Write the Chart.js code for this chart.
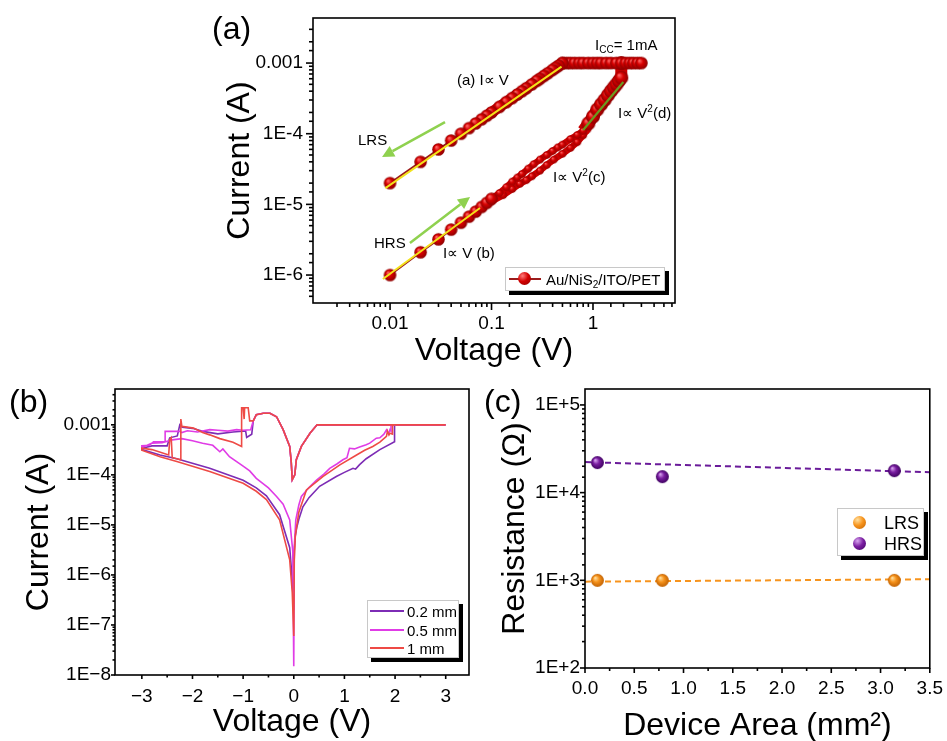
<!DOCTYPE html>
<html><head><meta charset="utf-8">
<script src="https://cdn.jsdelivr.net/npm/chart.js@4.4.1/dist/chart.umd.min.js"></script>
<style>
body{margin:0;background:#fff;}
#root{position:relative;width:947px;height:741px;overflow:hidden;font-family:'Liberation Sans',Arial,sans-serif;color:#000;background:#fff;}
canvas{position:absolute;}
.t{position:absolute;white-space:nowrap;line-height:1;font-size:15px;}
.t sub{font-size:10px;vertical-align:-3px;line-height:0;}
.t sup{font-size:10px;vertical-align:6px;line-height:0;}
.pl{position:absolute;white-space:nowrap;line-height:1;font-size:32px;}
.leg{position:absolute;background:#fff;border:1px solid #c8c8c8;box-shadow:4px 4px 0 0 #000;}
.leg .ln{position:absolute;height:2px;}
.leg .sp{position:absolute;border-radius:50%;}
.leg .lt{position:absolute;white-space:nowrap;line-height:1;}
.leg sub{font-size:10px;vertical-align:-3px;line-height:0;}
</style></head>
<body><div id="root">
<canvas id="cA" width="520" height="370" style="left:180px;top:0;width:520px;height:370px"></canvas>
<canvas id="cB" width="480" height="371" style="left:0;top:370px;width:480px;height:371px"></canvas>
<canvas id="cC" width="467" height="375" style="left:480px;top:370px;width:467px;height:375px"></canvas>

<div class="pl" style="left:212px;top:12px">(a)</div>
<div class="pl" style="left:9px;top:385px">(b)</div>
<div class="pl" style="left:484px;top:385px">(c)</div>

<div class="t" style="left:595px;top:37px">I<sub>CC</sub>= 1mA</div>
<div class="t" style="left:457px;top:72px">(a) I∝ V</div>
<div class="t" style="left:618px;top:105px">I∝ V<sup>2</sup>(d)</div>
<div class="t" style="left:358px;top:132px">LRS</div>
<div class="t" style="left:553px;top:169px">I∝ V<sup>2</sup>(c)</div>
<div class="t" style="left:374px;top:235px">HRS</div>
<div class="t" style="left:443px;top:245px">I∝ V (b)</div>

<div class="leg" style="left:505px;top:267px;width:158px;height:22px">
  <div class="ln" style="left:3px;top:10px;width:32px;background:#9B1B1B"></div>
  <div class="sp" style="left:12px;top:4px;width:13px;height:13px;background:radial-gradient(circle at 35% 30%,#ff7a7a,#d40000 45%,#8c0000)"></div>
  <div class="lt" style="left:40px;top:4px;font-size:15px">Au/NiS<sub>2</sub>/ITO/PET</div>
</div>

<div class="leg" style="left:367px;top:600px;width:90px;height:56px">
  <div class="ln" style="left:2px;top:9px;width:34px;background:#7D2CB5"></div>
  <div class="lt" style="left:39px;top:3px;font-size:15px">0.2 mm</div>
  <div class="ln" style="left:2px;top:28px;width:34px;background:#E03CE6"></div>
  <div class="lt" style="left:39px;top:22px;font-size:15px">0.5 mm</div>
  <div class="ln" style="left:2px;top:46px;width:34px;background:#EE4A45"></div>
  <div class="lt" style="left:39px;top:40px;font-size:15px">1 mm</div>
</div>

<div class="leg" style="left:837px;top:508px;width:85px;height:46px">
  <div class="sp" style="left:15px;top:7px;width:13px;height:13px;background:radial-gradient(circle at 35% 30%,#FFE0A0,#F7941D 45%,#C06000)"></div>
  <div class="lt" style="left:46px;top:5px;font-size:18px">LRS</div>
  <div class="sp" style="left:15px;top:28px;width:13px;height:13px;background:radial-gradient(circle at 35% 30%,#D9A6F0,#7B1FA2 45%,#3E0060)"></div>
  <div class="lt" style="left:46px;top:26px;font-size:18px">HRS</div>
</div>
</div>

<script>
// ================= DATA =================
// ---- Panel (a): Au/NiS2/ITO/PET log-log I-V ----
const aHrsV = [0.01,0.02,0.03,0.04,0.05,0.06,0.07,0.08,0.09,0.1,0.12,0.14,0.16,0.18,0.2,0.23,0.26,0.3,0.35,0.4,0.45,0.5,0.6,0.7,0.8,0.9,1.0,1.1,1.2,1.3,1.4,1.5,1.6,1.7,1.8,1.9,1.9];
const aHrsI = [1e-6,2.1e-6,3.2e-6,4.4e-6,5.5e-6,6.7e-6,7.9e-6,9.2e-6,1.05e-5,1.2e-5,1.45e-5,1.75e-5,2.1e-5,2.4e-5,2.7e-5,3.2e-5,3.7e-5,4.3e-5,5.0e-5,5.7e-5,6.4e-5,7.0e-5,8.4e-5,9.6e-5,1.1e-4,1.4e-4,1.75e-4,2.2e-4,2.6e-4,3.0e-4,3.5e-4,4.0e-4,4.5e-4,5.0e-4,5.6e-4,6.2e-4,1e-3];
const aHrs2V = [0.1,0.13,0.16,0.19,0.22,0.25,0.3,0.35,0.41,0.5,0.6,0.7,0.8,0.88];
const aHrs2I = [1.1e-5,1.35e-5,1.65e-5,1.95e-5,2.2e-5,2.5e-5,3.0e-5,3.6e-5,4.3e-5,5.2e-5,6.3e-5,7.6e-5,9.5e-5,1.15e-4];
const aCompV = [0.5,0.55,0.6,0.66,0.73,0.8,0.9,1.0,1.1,1.2,1.35,1.5,1.7,1.9,2.1,2.3,2.5,2.75,3.0];
const aCompI = [1e-3,1e-3,1e-3,1e-3,1e-3,1e-3,1e-3,1e-3,1e-3,1e-3,1e-3,1e-3,1e-3,1e-3,1e-3,1e-3,1e-3,1e-3,1e-3];
const aLrsV = [0.5,0.46,0.43,0.4,0.36,0.33,0.3,0.28,0.25,0.22,0.2,0.18,0.16,0.14,0.12,0.1,0.09,0.08,0.07,0.06,0.05,0.04,0.03,0.02,0.01];
const aLrsI = [1e-3,9.2e-4,8.6e-4,8e-4,7.2e-4,6.6e-4,6e-4,5.6e-4,5e-4,4.4e-4,4e-4,3.6e-4,3.2e-4,2.8e-4,2.4e-4,2e-4,1.8e-4,1.6e-4,1.4e-4,1.2e-4,1e-4,8e-5,6e-5,4e-5,2e-5];
// fitted slopes
const fitLrsV = [0.009,0.49], fitLrsI = [1.7e-5,8.9e-4];
const fitHrsV = [0.0085,0.077], fitHrsI = [8.8e-7,8.9e-6];
const fitDV = [0.8,1.99], fitDI = [1.13e-4,5.4e-4];
// annotation arrows (from -> to, in data units)
const arrowsA = [
  {from:[0.0348,1.46e-4], to:[0.00834,4.68e-5]},
  {from:[0.0157,2.84e-6], to:[0.0614,1.27e-5]}
];

// ---- Panel (b): linear V, log I for three device sizes ----
const bLrsBackV = [3.0,0.46,0.32,0.15,0.05,0.02];
const bLrsBackI = [1e-3,1e-3,6.8e-4,3.7e-4,2e-4,1e-4];
const bHumpV = [-0.03,-0.05,-0.08,-0.21,-0.34,-0.47,-0.6,-0.74,-0.8];
const bHumpI = [8e-5,1.8e-4,3.7e-4,8e-4,1.45e-3,1.7e-3,1.7e-3,1.6e-3,1.2e-3];
// 0.2 mm
const b02FwdV = [0,0.01,0.03,0.06,0.1,0.18,0.3,0.51,0.84,1.0,1.17,1.22,1.3,1.43,1.7,1.99,1.99];
const b02FwdI = [2e-7,3e-6,6e-6,9e-6,1.3e-5,2.3e-5,3.5e-5,5.9e-5,9.3e-5,1.12e-4,1.35e-4,1.3e-4,1.6e-4,2.1e-4,3.2e-4,4.6e-4,1e-3];
const b02ResetV = [-0.83,-0.93,-0.95,-1.2,-1.5,-1.8,-2.0,-2.2,-2.25,-2.3,-2.45,-2.5,-2.8,-3.0];
const b02ResetI = [6.5e-4,5.6e-4,7.5e-4,7.2e-4,6.6e-4,7.4e-4,8.5e-4,9e-4,1.0e-3,6e-4,5.5e-4,3.8e-4,3.8e-4,3.4e-4];
const b02RetV = [-3.0,-2.64,-2.31,-1.66,-1.0,-0.74,-0.54,-0.28,-0.08,-0.03,0];
const b02RetI = [3.2e-4,2.5e-4,2.1e-4,1.35e-4,7.8e-5,5.5e-5,3.8e-5,1.6e-5,3.5e-6,8e-7,2e-7];
// 0.5 mm
const b05FwdV = [0,0.01,0.04,0.1,0.15,0.3,0.45,0.6,0.71,0.85,0.97,1.05,1.1,1.2,1.3,1.43,1.5,1.63,1.7,1.78,1.83,1.87,1.9,1.92,1.92];
const b05FwdI = [1.5e-8,3.7e-6,1.26e-5,2.5e-5,3.7e-5,5.6e-5,7.9e-5,1.05e-4,1.35e-4,1.65e-4,2.0e-4,2.2e-4,3.4e-4,3.3e-4,3.6e-4,4.0e-4,4.3e-4,5.4e-4,5.5e-4,6.5e-4,7.9e-4,6.6e-4,8e-4,7.5e-4,1e-3];
const b05ResetV = [-0.85,-1.0,-1.13,-1.3,-1.5,-1.66,-1.9,-2.1,-2.21,-2.25,-2.54,-2.54,-2.77,-2.85,-3.0];
const b05ResetI = [8e-4,7.8e-4,8e-4,7.5e-4,7.8e-4,8e-4,7.2e-4,7.6e-4,7e-4,7.4e-4,7.4e-4,4.6e-4,4.6e-4,3.9e-4,3.8e-4];
const b05RetV = [-3.0,-2.8,-2.6,-2.4,-2.21,-2.0,-1.8,-1.6,-1.46,-1.4,-1.27,-1.0,-0.87,-0.74,-0.5,-0.34,-0.21,-0.08,-0.02,0];
const b05RetI = [3.5e-4,4.3e-4,4.4e-4,5.0e-4,5.3e-4,4.8e-4,4.3e-4,3.9e-4,2.9e-4,3.3e-4,2.3e-4,1.5e-4,1.2e-4,8.5e-5,5.5e-5,3.7e-5,2.6e-5,1.26e-5,3e-6,1.5e-8];
// 1 mm
const b1FwdV = [0,0.01,0.03,0.1,0.25,0.58,0.91,1.24,1.4,1.56,1.7,1.83,1.85,1.88,1.9,1.95,1.95];
const b1FwdI = [6e-8,2e-6,6e-6,1.8e-5,5e-5,9.3e-5,1.58e-4,2.5e-4,3.1e-4,3.7e-4,4.5e-4,5.9e-4,7.5e-4,6.3e-4,6.8e-4,6.5e-4,1e-3];
const b1ResetV = [-0.87,-0.9,-0.97,-0.98,-1.0,-1.03,-1.03,-1.2,-1.46,-1.66,-1.8,-1.98,-2.21,-2.23,-2.23,-2.4,-2.42,-2.45,-2.47,-2.8,-3.0];
const b1ResetI = [1.2e-3,2.2e-3,2.2e-3,1.3e-3,2.2e-3,2.2e-3,3.7e-4,4.5e-4,5.3e-4,6.3e-4,7e-4,8.6e-4,9.3e-4,1.3e-3,2.0e-4,2.2e-4,5.5e-4,5.0e-4,2.5e-4,3.2e-4,3.4e-4];
const b1RetV = [-3.0,-2.64,-2.31,-1.66,-1.0,-0.74,-0.54,-0.28,-0.08,-0.03,0];
const b1RetI = [3.1e-4,2.3e-4,1.85e-4,1.17e-4,6.8e-5,4.7e-5,3.2e-5,1.26e-5,2e-6,4.4e-7,6e-8];
const bLabels = ['0.2 mm','0.5 mm','1 mm'];

// ---- Panel (c): resistance vs device area ----
const cArea = [0.126,0.785,3.14];
const cLRS = [1000,1000,1000];
const cHRS = [22000,15200,17800];
const cFitX = [0,3.5];
const cFitLRS = [966,1028];
const cFitHRS = [22300,17100];
const cLabels = ['LRS','HRS'];

// ================= HELPERS =================
const FONT = "'Liberation Sans', Arial, sans-serif";
Chart.defaults.font.family = FONT;
Chart.defaults.color = '#000';

function pts(vs, is){ return vs.map((v,k)=>({x:v, y:is[k]})); }

function sphere(r, hi, mid, edge){
  const s = Math.ceil(2*r)+2, c = document.createElement('canvas');
  c.width = c.height = s;
  const g = c.getContext('2d'), m = s/2;
  const gr = g.createRadialGradient(m - r*0.35, m - r*0.4, r*0.05, m, m, r);
  gr.addColorStop(0, hi); gr.addColorStop(0.45, mid); gr.addColorStop(1, edge);
  g.fillStyle = gr; g.beginPath(); g.arc(m, m, r, 0, 2*Math.PI); g.fill();
  return c;
}
const redL = sphere(7, '#ff6a6a', '#d80000', '#8c0000');
const redM = sphere(6.3, '#ff6a6a', '#d80000', '#8c0000');
const redS = sphere(3.8, '#ff6a6a', '#d40000', '#9a0000');
const orgS = sphere(6.5, '#FFE0A0', '#F7941D', '#C06000');
const purS = sphere(6.5, '#D9A6F0', '#7B1FA2', '#3E0060');

const frameTicks = {
  id:'frameTicks',
  afterDraw(chart, args, opts){
    const {ctx, chartArea:a} = chart;
    ctx.save();
    ctx.strokeStyle = '#000';
    ctx.lineWidth = opts.lw || 1.5;
    ['x','y'].forEach(id=>{
      const s = chart.scales[id];
      s.ticks.forEach(t=>{
        const p = s.getPixelForValue(t.value);
        const major = t.label !== '' && t.label != null;
        const len = major ? opts.major : opts.minor;
        if (id === 'x'){
          if (!major && (p < a.left+3 || p > a.right-3)) return;
          ctx.beginPath(); ctx.moveTo(p, a.bottom); ctx.lineTo(p, a.bottom+len); ctx.stroke();
        } else {
          if (!major && (p < a.top+3 || p > a.bottom-3)) return;
          ctx.beginPath(); ctx.moveTo(a.left, p); ctx.lineTo(a.left-len, p); ctx.stroke();
        }
      });
    });
    ctx.strokeRect(a.left, a.top, a.right-a.left, a.bottom-a.top);
    ctx.restore();
  }
};

const arrowPlugin = {
  id:'arrows',
  afterDatasetsDraw(chart, args, opts){
    if (!opts.items) return;
    const {ctx, scales:{x,y}} = chart;
    ctx.save();
    ctx.strokeStyle = opts.color; ctx.fillStyle = opts.color; ctx.lineWidth = 2.5;
    opts.items.forEach(it=>{
      const x0 = x.getPixelForValue(it.from[0]), y0 = y.getPixelForValue(it.from[1]);
      const x1 = x.getPixelForValue(it.to[0]), y1 = y.getPixelForValue(it.to[1]);
      const ang = Math.atan2(y1-y0, x1-x0), h = 12, w = 6;
      const bx = x1 - h*Math.cos(ang), by = y1 - h*Math.sin(ang);
      ctx.beginPath(); ctx.moveTo(x0,y0); ctx.lineTo(bx,by); ctx.stroke();
      ctx.beginPath(); ctx.moveTo(x1,y1);
      ctx.lineTo(bx + w*Math.sin(ang), by - w*Math.cos(ang));
      ctx.lineTo(bx - w*Math.sin(ang), by + w*Math.cos(ang));
      ctx.closePath(); ctx.fill();
    });
    ctx.restore();
  }
};

function isPow10(v){ const l = Math.log10(v); return Math.abs(l - Math.round(l)) < 1e-6; }

function axis(o){
  return {
    type:o.type, min:o.min, max:o.max, position:o.pos,
    afterFit: o.pos === 'left' ? (s)=>{ s.width = o.size; } : (s)=>{ s.height = o.size; },
    grid:{display:false, drawTicks:true, tickLength:o.tl},
    border:{display:false},
    ticks:{autoSkip:false, maxRotation:0, minRotation:0, padding:o.pad, stepSize:o.step, includeBounds:o.bounds !== false,
           font:{size:o.fs, family:FONT}, color:'#000', callback:o.cb},
    title:{display:true, text:o.title, font:{size:32, family:FONT}, color:'#000', padding:{top:0,bottom:0}}
  };
}

const baseOpts = {responsive:false, animation:false, devicePixelRatio:1, events:[]};

// ================= PANEL (a) =================
function hrsStyle(ctx){
  const v = ctx.raw ? ctx.raw.x : 0;
  return (v > 0.11 && v < 0.85) ? redS : (v >= 0.85 ? redL : redM);
}
const segLo = (c)=> Math.min(c.p0.parsed.x, c.p1.parsed.x);
const segHi = (c)=> Math.max(c.p0.parsed.x, c.p1.parsed.x);
new Chart(document.getElementById('cA'), {
  type:'scatter',
  data:{datasets:[
    {label:'fitLrs', data:pts(fitLrsV,fitLrsI), showLine:true, borderColor:'#F2E21B', borderWidth:2, pointRadius:0, order:0},
    {label:'fitHrs', data:pts(fitHrsV,fitHrsI), showLine:true, borderColor:'#F2E21B', borderWidth:2, pointRadius:0, order:0},
    {label:'fitD', data:pts(fitDV,fitDI), showLine:true, borderColor:'#6B9A1F', borderWidth:2.2, pointRadius:0, order:0},
    {label:'Au/NiS2/ITO/PET', data:pts(aLrsV,aLrsI), showLine:true, borderColor:'#9B1B1B', borderWidth:2, pointStyle:redM, pointRadius:6, order:1,
      segment:{borderWidth:(c)=> segLo(c) >= 0.09 ? 11 : 2, borderColor:(c)=> segLo(c) >= 0.09 ? '#CC0000' : '#9B1B1B'}},
    {label:'comp', data:pts(aCompV,aCompI), showLine:true, borderColor:'#CC0000', borderWidth:11, pointStyle:redM, pointRadius:6, order:1},
    {label:'hrs', data:pts(aHrsV,aHrsI), showLine:true, borderColor:'#9B1B1B', borderWidth:2, pointStyle:hrsStyle, pointRadius:6, order:1,
      segment:{
        borderWidth:(c)=> segLo(c) >= 0.8 ? 12 : (segLo(c) >= 0.1 ? 6.5 : 2),
        borderColor:(c)=> segLo(c) >= 0.1 ? '#CC0000' : '#9B1B1B'}},
    {label:'hrs2', data:pts(aHrs2V,aHrs2I), showLine:true, borderColor:'#CC0000', borderWidth:6.5, pointStyle:redS, pointRadius:3.8, order:2}
  ]},
  options:Object.assign({}, baseOpts, {
    layout:{padding:{left:41,right:25,top:18,bottom:0}},
    plugins:{legend:{display:false}, tooltip:{enabled:false},
      frameTicks:{major:7, minor:4, lw:1.6},
      arrows:{items:arrowsA, color:'#8FD14F'}},
    scales:{
      x:axis({type:'logarithmic', min:0.00174, max:6.43, pos:'bottom', size:67, tl:7, pad:2, fs:19, title:'Voltage (V)',
        cb:(v)=> isPow10(v) ? String(Number(v.toPrecision(1))) : ''}),
      y:axis({type:'logarithmic', min:4.02e-7, max:4.34e-3, pos:'left', size:92, tl:7, pad:3, fs:19, title:'Current (A)',
        cb:(v)=>{ if(!isPow10(v)) return ''; const e = Math.round(Math.log10(v)); return e === -3 ? '0.001' : '1E' + e; }})
    }
  }),
  plugins:[frameTicks, arrowPlugin]
});

// ================= PANEL (b) =================
function devPath(fv, fi, rv, ri, tv, ti){
  return pts(fv,fi).concat(pts(bLrsBackV,bLrsBackI), pts(bHumpV,bHumpI), pts(rv,ri), pts(tv,ti));
}
new Chart(document.getElementById('cB'), {
  type:'scatter',
  data:{datasets:[
    {label:bLabels[0], data:devPath(b02FwdV,b02FwdI,b02ResetV,b02ResetI,b02RetV,b02RetI), showLine:true, borderColor:'#7D2CB5', borderWidth:1.6, pointRadius:0, order:2},
    {label:bLabels[1], data:devPath(b05FwdV,b05FwdI,b05ResetV,b05ResetI,b05RetV,b05RetI), showLine:true, borderColor:'#E03CE6', borderWidth:1.6, pointRadius:0, order:1},
    {label:bLabels[2], data:devPath(b1FwdV,b1FwdI,b1ResetV,b1ResetI,b1RetV,b1RetI), showLine:true, borderColor:'#EE4A45', borderWidth:1.6, pointRadius:0, order:0}
  ]},
  options:Object.assign({}, baseOpts, {
    layout:{padding:{left:20,right:11,top:19,bottom:0}},
    plugins:{legend:{display:false}, tooltip:{enabled:false}, frameTicks:{major:4, minor:2.5, lw:1.6}},
    scales:{
      x:axis({type:'linear', min:-3.53, max:3.46, step:0.5, bounds:false, pos:'bottom', size:66, tl:4, pad:6, fs:19, title:'Voltage (V)',
        cb:(v)=>{ if (Math.abs(v - Math.round(v)) > 1e-6) return ''; const r = Math.round(v); return r < 0 ? '\u2212' + Math.abs(r) : String(r); }}),
      y:axis({type:'logarithmic', min:1e-8, max:5.2e-3, pos:'left', size:95, tl:4, pad:0, fs:19, title:'Current (A)',
        cb:(v)=>{ if(!isPow10(v)) return ''; const e = Math.round(Math.log10(v)); return e === -3 ? '0.001' : '1E\u2212' + (-e); }})
    }
  }),
  plugins:[frameTicks]
});

// ================= PANEL (c) =================
new Chart(document.getElementById('cC'), {
  type:'scatter',
  data:{datasets:[
    {label:'fitLRS', data:pts(cFitX,cFitLRS), showLine:true, borderColor:'#F7941D', borderWidth:2, borderDash:[6,4], pointRadius:0, order:2},
    {label:'fitHRS', data:pts(cFitX,cFitHRS), showLine:true, borderColor:'#6A1B9A', borderWidth:2, borderDash:[6,4], pointRadius:0, order:2},
    {label:cLabels[0], data:pts(cArea,cLRS), showLine:false, pointStyle:orgS, pointRadius:6.5, order:0},
    {label:cLabels[1], data:pts(cArea,cHRS), showLine:false, pointStyle:purS, pointRadius:6.5, order:0}
  ]},
  options:Object.assign({}, baseOpts, {
    layout:{padding:{left:16,right:14,top:19,bottom:0}},
    plugins:{legend:{display:false}, tooltip:{enabled:false}, frameTicks:{major:5, minor:3, lw:1.6}},
    scales:{
      x:axis({type:'linear', min:0, max:3.5, step:0.25, pos:'bottom', size:77, tl:5, pad:4, fs:19, title:'Device Area (mm\u00B2)',
        cb:(v)=> Math.abs(v*2 - Math.round(v*2)) < 1e-6 ? v.toFixed(1) : ''}),
      y:axis({type:'logarithmic', min:100, max:1.52e5, pos:'left', size:89, tl:5, pad:0, fs:19, title:'Resistance (\u03A9)',
        cb:(v)=> isPow10(v) ? '1E+' + Math.round(Math.log10(v)) : ''})
    }
  }),
  plugins:[frameTicks]
});
</script>
</body></html>
